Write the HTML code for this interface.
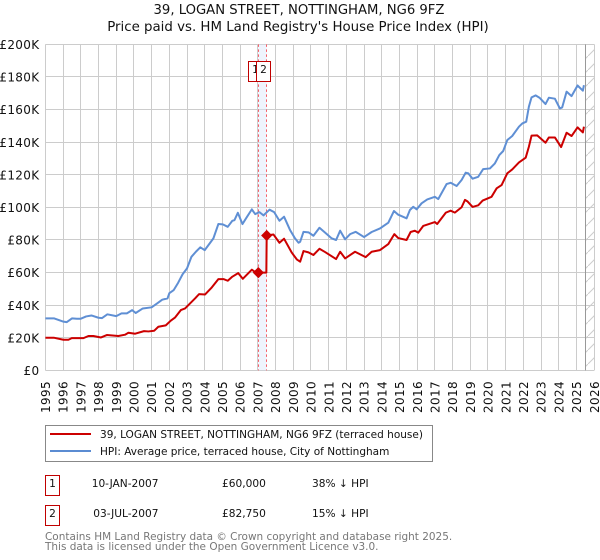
<!DOCTYPE html>
<html lang="en">
<head>
<meta charset="utf-8">
<title>39, Logan Street price chart</title>
<style>
html,body{margin:0;padding:0;background:#fff;}
svg{display:block;}
text{font-family:"DejaVu Sans","Liberation Sans",sans-serif;fill:#111;}
</style>
</head>
<body>
<svg id="chart" width="600" height="560" viewBox="0 0 600 560" xmlns="http://www.w3.org/2000/svg">
  <defs>
    <pattern id="hatch" patternUnits="userSpaceOnUse" width="14" height="14">
      <line x1="0" y1="14" x2="14" y2="0" stroke="#ccc" stroke-width="1"/>
    </pattern>
  </defs>
  <text x="299" y="14" font-size="13.2" text-anchor="middle">39, LOGAN STREET, NOTTINGHAM, NG6 9FZ</text>
  <text x="298" y="31" font-size="13.35" text-anchor="middle">Price paid vs. HM Land Registry's House Price Index (HPI)</text>
  <g id="grid"></g>
  <g id="overlays"></g>
  <g id="series"></g>
  <g id="labels"></g>

  <g>
    <rect x="45.5" y="425.5" width="387" height="36" fill="#fff" stroke="#888" stroke-width="1"/>
    <line x1="50" y1="434" x2="91" y2="434" stroke="#cc0000" stroke-width="2"/>
    <text x="100" y="438" font-size="10.52">39, LOGAN STREET, NOTTINGHAM, NG6 9FZ (terraced house)</text>
    <line x1="50" y1="451" x2="91" y2="451" stroke="#5b8cd2" stroke-width="2"/>
    <text x="100" y="455" font-size="10.52">HPI: Average price, terraced house, City of Nottingham</text>
  </g>

  <g>
    <rect x="45.5" y="475.5" width="14" height="20" fill="#fff" stroke="#c00000" stroke-width="1"/>
    <text x="52.5" y="487" font-size="10.6" text-anchor="middle">1</text>
    <text x="158.5" y="487" font-size="10.6" text-anchor="end">10-JAN-2007</text>
    <text x="222" y="487" font-size="10.6">£60,000</text>
    <text x="312" y="487" font-size="10.6">38% ↓ HPI</text>
  </g>
  <g>
    <rect x="45.5" y="505.5" width="14" height="20" fill="#fff" stroke="#c00000" stroke-width="1"/>
    <text x="52.5" y="517" font-size="10.6" text-anchor="middle">2</text>
    <text x="158.5" y="517" font-size="10.6" text-anchor="end">03-JUL-2007</text>
    <text x="222" y="517" font-size="10.6">£82,750</text>
    <text x="312" y="517" font-size="10.6">15% ↓ HPI</text>
  </g>

  <text x="45" y="540" font-size="10.47" style="fill:#777">Contains HM Land Registry data © Crown copyright and database right 2025.</text>
  <text x="45" y="550" font-size="10.47" style="fill:#777">This data is licensed under the Open Government Licence v3.0.</text>
</svg>
<script>
const yearTicks = [1995,1996,1997,1998,1999,2000,2001,2002,2003,2004,2005,2006,2007,2008,2009,2010,2011,2012,2013,2014,2015,2016,2017,2018,2019,2020,2021,2022,2023,2024,2025,2026];
const priceTicks = [0,20,40,60,80,100,120,140,160,180,200];
const hpiDates = [1995,1995.5,1995.76,1996.02,1996.2,1996.5,1996.78,1997,1997.3,1997.6,1998,1998.2,1998.5,1999,1999.3,1999.6,1999.9,2000.1,2000.5,2001,2001.3,2001.6,2001.9,2002,2002.25,2002.5,2002.75,2003,2003.25,2003.5,2003.75,2004,2004.49,2004.77,2005.02,2005.3,2005.56,2005.68,2005.87,2006.13,2006.37,2006.66,2006.85,2007.09,2007.32,2007.66,2007.92,2008.22,2008.48,2008.82,2009.1,2009.3,2009.39,2009.58,2009.86,2010.14,2010.48,2010.8,2011.17,2011.42,2011.65,2011.93,2012.21,2012.53,2013,2013.43,2013.9,2014.37,2014.69,2014.93,2015.4,2015.59,2015.78,2015.97,2016.25,2016.57,2017,2017.19,2017.66,2017.89,2018.23,2018.51,2018.74,2018.89,2019.13,2019.45,2019.73,2020.11,2020.39,2020.64,2020.86,2021.09,2021.37,2021.75,2021.94,2022.16,2022.31,2022.46,2022.69,2022.91,2023.25,2023.44,2023.78,2024.06,2024.19,2024.44,2024.72,2025.06,2025.36,2025.42];
const hpiValues = [31.9,31.9,30.9,29.9,29.6,31.9,31.7,31.7,33.1,33.7,32.3,32.1,34.4,33.3,35,35,37,35.2,38,38.7,41,43.4,44.2,47.4,49.3,53.8,59,62.6,69.7,72.8,75.5,73.8,81,89.8,89.6,88.1,91.8,92.2,96.7,89.8,93.9,98.8,95.9,97.1,95.1,98.6,97.1,91.8,94.3,86.1,81,78.3,78.9,85,84.7,82.6,87.5,84.5,81,80,85.7,80.4,83.6,85,81.8,84.9,87.1,90.6,97.8,95.5,93.3,98.4,100.4,98.8,102.5,104.9,106.5,105.1,114.3,115.1,113.1,116.8,121.3,120.9,117.6,118.8,123.5,123.9,127,132.1,134.6,141.3,143.8,149.5,151.5,152.6,161.8,167.5,168.7,167.3,163.4,167.3,166.7,160.7,161.3,171,168.3,174.8,171.6,175];
const paidDates = [1995,1995.5,1996.02,1996.3,1996.49,1997.15,1997.43,1997.71,1998.14,1998.47,1999.12,1999.5,1999.69,2000.07,2000.57,2000.82,2001.14,2001.38,2001.8,2002.08,2002.33,2002.65,2002.89,2003.17,2003.46,2003.68,2004.02,2004.4,2004.77,2005.06,2005.3,2005.56,2005.89,2006.15,2006.66,2006.85,2007.03,2007.48,2007.5,2007.88,2008.22,2008.48,2008.92,2009.2,2009.39,2009.58,2009.86,2010.14,2010.48,2010.8,2011.42,2011.65,2011.93,2012.49,2013.09,2013.43,2013.9,2014.37,2014.71,2014.93,2015.4,2015.63,2015.87,2016.06,2016.34,2017,2017.13,2017.62,2017.89,2018.13,2018.51,2018.7,2018.85,2019.13,2019.45,2019.7,2020.2,2020.49,2020.77,2021.09,2021.37,2021.75,2022.13,2022.31,2022.46,2022.78,2023.25,2023.44,2023.78,2024.13,2024.44,2024.72,2025.06,2025.36,2025.42];
const paidValues = [20,20,18.8,18.8,19.8,19.8,21.1,21.1,20.2,21.7,21.1,21.9,23.1,22.5,24.1,23.9,24.3,26.8,27.6,30.5,32.5,37,38,41.1,44.2,46.8,46.6,50.9,56,56,55,57.5,59.7,56.2,61.8,60.3,60,60,82.75,83.4,78.3,80.8,72.2,68.1,66.7,73.2,72.4,70.8,74.6,72.6,68.3,72.8,68.7,72.8,69.5,72.8,73.8,77.5,83.6,81.2,80,84.9,85.7,84.5,88.6,91,89.8,96.8,98,96.8,100.1,104.6,103.6,100.3,101.3,104.2,106.5,111.7,113.7,120.9,123.3,127.6,130.5,137.2,144,144.2,139.7,142.9,142.9,137,145.8,143.8,149.1,146,149.5];
const saleDates = [2007.03,2007.5];
const salePrices = [60,82.75];
const saleLabels = ['1','2'];
const dataEndDate = 2025.53;

const NS = 'http://www.w3.org/2000/svg';
const xMin = 1995, xMax = 2026, yMax = 200;
const plotLeft = 45.4, plotRight = 594.2, plotTop = 44.4, plotBottom = 370.4;
function xScale(v){ return plotLeft + (v - xMin) / (xMax - xMin) * (plotRight - plotLeft); }
function yScale(v){ return plotBottom - v / yMax * (plotBottom - plotTop); }
function snap(v){ return Math.round(v - 0.5) + 0.5; }
function make(parent, tag, attrs){
  const el = document.createElementNS(NS, tag);
  for (const k in attrs) el.setAttribute(k, attrs[k]);
  parent.appendChild(el);
  return el;
}
const grid = document.getElementById('grid');
const overlays = document.getElementById('overlays');
const seriesG = document.getElementById('series');
const labels = document.getElementById('labels');

yearTicks.forEach(function(yr){
  const x = snap(xScale(yr));
  const line = make(grid, 'line', {x1:x, x2:x, y1:plotTop, y2:plotBottom, stroke:'#ccc', 'stroke-width':1});
  
  
  const t = make(labels, 'text', {transform:'translate(' + (xScale(yr) + 4.6) + ',381) rotate(-90)', 'font-size':12, 'text-anchor':'end', 'letter-spacing':'0.35'});
  
  
  t.textContent = String(yr);
});
priceTicks.forEach(function(p){
  const y = snap(yScale(p));
  const line = make(grid, 'line', {x1:plotLeft, x2:plotRight, y1:y, y2:y, stroke:'#ccc', 'stroke-width':1});
  
  
  const t = make(labels, 'text', {x:39.5, y:yScale(p) + 4.6, 'font-size':12, 'text-anchor':'end', 'letter-spacing':'0.35'});
  
  
  t.textContent = p === 0 ? '£0' : '£' + p + 'K';
});

const hatchRect = make(overlays, 'rect', {x:xScale(dataEndDate), y:plotTop, width:plotRight - xScale(dataEndDate), height:plotBottom - plotTop, fill:'url(#hatch)'});


const endLine = make(overlays, 'line', {x1:snap(xScale(dataEndDate)), x2:snap(xScale(dataEndDate)), y1:plotTop, y2:plotBottom, stroke:'#999', 'stroke-width':1});



const band = make(overlays, 'rect', {x:xScale(saleDates[0]), y:plotTop, width:xScale(saleDates[1]) - xScale(saleDates[0]), height:plotBottom - plotTop, fill:'#dbe6fa', 'fill-opacity':0.45});


saleDates.forEach(function(d){
  const x = snap(xScale(d));
  const l = make(overlays, 'line', {x1:x, x2:x, y1:plotTop, y2:plotBottom, stroke:'#f5606a', 'stroke-width':1, 'stroke-dasharray':'2.5,2.5'});
  
  
});

function linePath(dates, values){
  return dates.map(function(d, i){
    return (i ? 'L' : 'M') + xScale(d).toFixed(2) + ' ' + yScale(values[i]).toFixed(2);
  }).join(' ');
}
const hpiLine = make(seriesG, 'path', {d:linePath(hpiDates, hpiValues), fill:'none', stroke:'#5f8fd4', 'stroke-width':2, 'stroke-linejoin':'round'});


const paidLine = make(seriesG, 'path', {d:linePath(paidDates, paidValues), fill:'none', stroke:'#cc0000', 'stroke-width':2, 'stroke-linejoin':'round'});



saleDates.forEach(function(d, i){
  const x = xScale(d), y = yScale(salePrices[i]), r = 5.6;
  const m = make(seriesG, 'polygon', {points:[x, y - r, x + r, y, x, y + r, x - r, y].join(' '), fill:'#cc0000'});
  
  
  const bx = snap(x) - 10;
  const b = make(overlays, 'rect', {x:bx, y:61.5, width:14, height:20, fill:'#fff', stroke:'#c00000', 'stroke-width':1});
  
  
  const t = make(overlays, 'text', {x:bx + 7, y:73, 'font-size':10.6, 'text-anchor':'middle'});
  
  
  t.textContent = saleLabels[i];
});
</script>
</body>
</html>
